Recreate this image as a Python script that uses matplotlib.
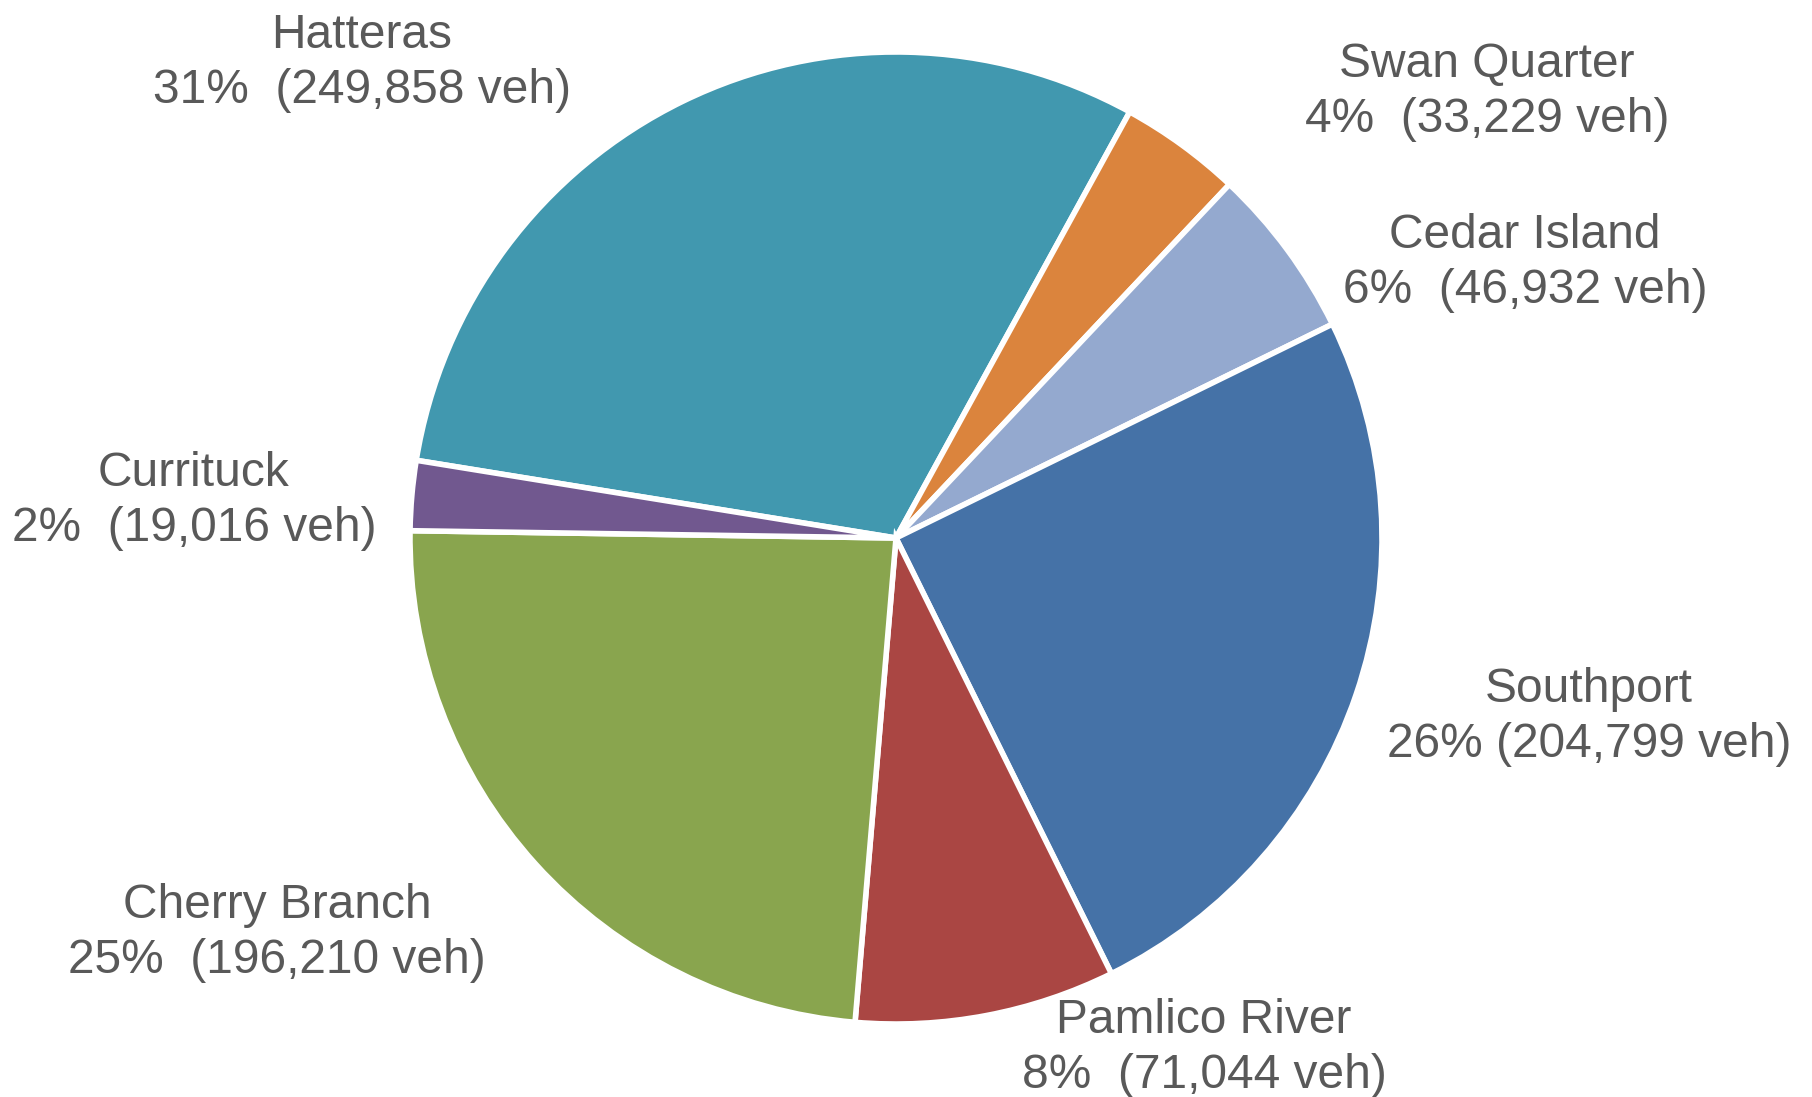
import matplotlib.pyplot as plt

# Ferry route vehicle counts
routes = ["Hatteras", "Swan Quarter", "Cedar Island", "Southport",
          "Pamlico River", "Cherry Branch", "Currituck"]
vehicles = [249858, 33229, 46932, 204799, 71044, 196210, 19016]
pct_labels = ["31%", "4%", "6%", "26%", "8%", "25%", "2%"]
gaps = ["  ", "  ", "  ", " ", "  ", "  ", "  "]

colors = ["#4198AF", "#DB843D", "#94A9CF", "#4572A7",
          "#AA4643", "#89A54E", "#71588F"]

# label centres in figure pixels (x, y from bottom)
label_pos = [(362, 1034), (1487, 1005), (1525, 834), (1589, 380),
             (1204, 49), (277, 164), (194, 596)]

W, H = 1812, 1097
fig = plt.figure(figsize=(W / 100, H / 100), dpi=100)
ax = fig.add_axes([0, 0, 1, 1])

ax.pie(vehicles, colors=colors, center=(896, 559), radius=486,
       startangle=170.8, counterclock=False, frame=True,
       wedgeprops=dict(edgecolor="white", linewidth=4))
ax.set_xlim(0, W)
ax.set_ylim(0, H)
ax.set_aspect("equal")
ax.axis("off")

for name, cnt, pct, gap, (x, y) in zip(routes, vehicles, pct_labels, gaps, label_pos):
    ax.text(x, y, f"{name}\n{pct}{gap}({cnt:,} veh)", ha="center", va="center",
            multialignment="center", fontsize=34.5, color="#595959",
            family="Liberation Sans", linespacing=1.28)

fig.savefig("out.png", dpi=100)
